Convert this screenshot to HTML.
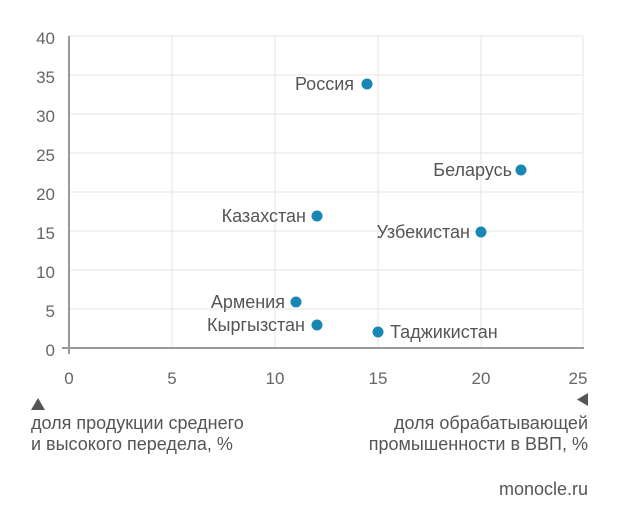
<!DOCTYPE html>
<html><head><meta charset="utf-8"><style>
html,body{margin:0;padding:0;background:#fff;}
svg{display:block;font-family:"Liberation Sans","DejaVu Sans",sans-serif;}
</style></head><body>
<svg width="620" height="526" viewBox="0 0 620 526" xmlns="http://www.w3.org/2000/svg">
<g stroke="#e6e6e6" stroke-width="1">
<line x1="69" y1="36" x2="583" y2="36"/><line x1="69" y1="75" x2="583" y2="75"/>
<line x1="69" y1="114" x2="583" y2="114"/><line x1="69" y1="153" x2="583" y2="153"/>
<line x1="69" y1="192" x2="583" y2="192"/><line x1="69" y1="231" x2="583" y2="231"/>
<line x1="69" y1="270" x2="583" y2="270"/><line x1="69" y1="309" x2="583" y2="309"/>
<line x1="172" y1="36" x2="172" y2="348"/><line x1="275" y1="36" x2="275" y2="348"/>
<line x1="378" y1="36" x2="378" y2="348"/><line x1="481" y1="36" x2="481" y2="348"/>
<line x1="583" y1="36" x2="583" y2="348"/>
</g>
<g stroke="#999" stroke-width="2">
<line x1="69" y1="36" x2="69" y2="354"/><line x1="62" y1="348" x2="584" y2="348"/>
</g>
<g fill="#666" font-size="17" text-anchor="end">
<text x="55" y="44">40</text><text x="55" y="83">35</text><text x="55" y="122">30</text>
<text x="55" y="161">25</text><text x="55" y="200">20</text><text x="55" y="239">15</text>
<text x="55" y="278">10</text><text x="55" y="317">5</text><text x="55" y="356">0</text>
</g>
<g fill="#666" font-size="17" text-anchor="middle">
<text x="69" y="384">0</text><text x="172" y="384">5</text><text x="275" y="384">10</text>
<text x="378" y="384">15</text><text x="481" y="384">20</text><text x="578" y="384">25</text>
</g>
<g fill="#1a86b3">
<circle cx="367" cy="84" r="5.5"/><circle cx="521" cy="170" r="5.5"/>
<circle cx="317" cy="216" r="5.5"/><circle cx="481" cy="232" r="5.5"/>
<circle cx="296" cy="302" r="5.5"/><circle cx="317" cy="325" r="5.5"/>
<circle cx="378" cy="332" r="5.5"/>
</g>
<g fill="#555" font-size="18">
<text x="354" y="90" text-anchor="end">Россия</text>
<text x="512" y="176" text-anchor="end">Беларусь</text>
<text x="306" y="222" text-anchor="end">Казахстан</text>
<text x="470" y="238" text-anchor="end">Узбекистан</text>
<text x="285" y="308" text-anchor="end">Армения</text>
<text x="305" y="331" text-anchor="end">Кыргызстан</text>
<text x="390" y="338">Таджикистан</text>
</g>
<polygon points="31,410 38,398 45,410" fill="#555"/>
<polygon points="588,393 588,406 577,399.5" fill="#555"/>
<g fill="#555" font-size="18">
<text x="31" y="429">доля продукции среднего</text>
<text x="31" y="450">и высокого передела, %</text>
<text x="588" y="429" text-anchor="end">доля обрабатывающей</text>
<text x="588" y="450" text-anchor="end">промышенности в ВВП, %</text>
<text x="588" y="495" text-anchor="end">monocle.ru</text>
</g>
</svg>
</body></html>
